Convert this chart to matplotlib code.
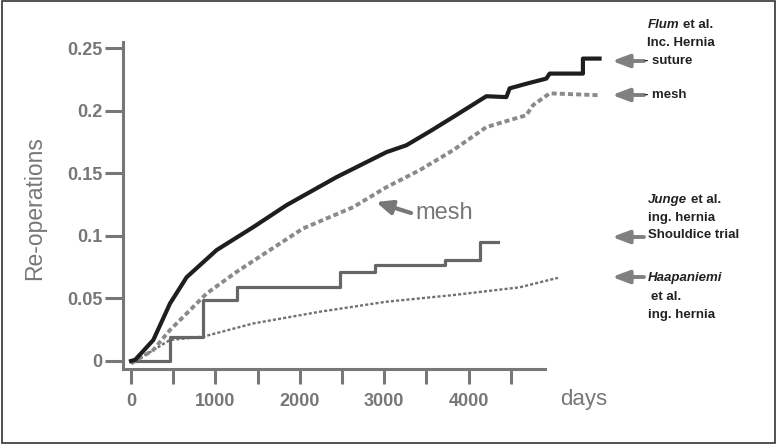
import matplotlib.pyplot as plt
from matplotlib.patches import Rectangle

# Flum et al., incisional hernia - suture (cumulative re-operations)
suture_days = [0, 50, 264, 462, 659, 1014, 1447, 1842, 2434, 3026, 3262, 3550,
               3814, 4209, 4446, 4485, 4700, 4919, 4959, 5353, 5353, 5550]
suture_rate = [0, 0.001, 0.0168, 0.046, 0.067, 0.0887, 0.107, 0.1246, 0.147, 0.167,
               0.1725, 0.184, 0.195, 0.2117, 0.211, 0.218, 0.222, 0.2258, 0.2298,
               0.2298, 0.2418, 0.2418]

# Flum et al., incisional hernia - mesh
mesh_days = [0, 264, 462, 659, 896, 1251, 1645, 2039, 2631, 3026, 3420, 3814,
             4209, 4406, 4682, 4761, 4959, 5550]
mesh_rate = [-0.002, 0.0088, 0.0248, 0.038, 0.054, 0.0713, 0.0887, 0.106, 0.123,
             0.139, 0.1526, 0.1685, 0.187, 0.191, 0.1965, 0.2045, 0.214, 0.2125]

# Junge et al., inguinal hernia, Shouldice trial (step function)
junge_days = [0, 462, 856, 1251, 2473, 2888, 3716, 4130, 4347]
junge_rate = [0, 0.0195, 0.049, 0.059, 0.0713, 0.0767, 0.0807, 0.0948, 0.0948]

# Haapaniemi et al., inguinal hernia
haap_days = [0, 462, 856, 1447, 2237, 3026, 3814, 4603, 5057]
haap_rate = [-0.002, 0.0168, 0.0195, 0.030, 0.0394, 0.0474, 0.0527, 0.0589, 0.0665]

y_ticks = [0, 0.05, 0.1, 0.15, 0.2, 0.25]
y_labels = ["0", "0.05", "0.1", "0.15", "0.2", "0.25"]
x_ticks = [0, 500, 1000, 1500, 2000, 2500, 3000, 3500, 4000, 4500]
x_labels = ["0", "", "1000", "", "2000", "", "3000", "", "4000", ""]

plt.rcParams["font.family"] = ["Liberation Sans", "DejaVu Sans"]
W, H = 777, 444
fig = plt.figure(figsize=(W / 100, H / 100), dpi=100)


def fpos(x, y):
    return (x / W, 1 - y / H)


ax = fig.add_axes([123 / W, 1 - 369 / H, (608 - 123) / W, (369 - 41.7) / H])
ax.set_xlim(-95, 5650)
ax.set_ylim(-0.0064, 0.2553)

ax.plot(haap_days, haap_rate, color="#707070", lw=1.7, ls=(0, (1.3, 0.9)),
        clip_on=False)
ax.step(junge_days, junge_rate, where="post", color="#666666", lw=2.3, clip_on=False)
ax.plot(mesh_days, mesh_rate, color="#8a8a8a", lw=2.8, ls=(0, (1.3, 0.8)),
        clip_on=False)
ax.plot(suture_days, suture_rate, color="#1e1e1e", lw=3.0, clip_on=False)

gray = "#777777"
for s in ["top", "right"]:
    ax.spines[s].set_visible(False)
for s in ["left", "bottom"]:
    ax.spines[s].set_color(gray)
    ax.spines[s].set_linewidth(2.2)
ax.spines["bottom"].set_bounds(-95, 4900)

ax.set_yticks(y_ticks)
ax.set_yticklabels(y_labels)
ax.set_xticks(x_ticks)
ax.set_xticklabels(x_labels)
ax.tick_params(axis="y", length=13, width=2.2, color=gray, pad=2,
               labelsize=13, labelcolor=gray)
ax.tick_params(axis="x", length=11, width=2.2, color=gray, pad=6,
               labelsize=13, labelcolor=gray)
for lab in ax.get_xticklabels() + ax.get_yticklabels():
    lab.set_fontweight("bold")

fig.text(*fpos(35, 208), "Re-operations", rotation=90, ha="center", va="center",
         fontsize=16.5, color=gray)
fig.text(*fpos(560, 399), "days", ha="left", va="center", fontsize=16, color=gray)

# "mesh" label in the plot
fig.text(*fpos(415, 213), "mesh", ha="left", va="center", fontsize=17, color=gray)
ax.annotate("", xy=fpos(376, 202), xytext=fpos(411, 213),
            xycoords="figure fraction", textcoords="figure fraction",
            arrowprops=dict(arrowstyle="-|>,head_length=0.8,head_width=0.35",
                            lw=3, color=gray, mutation_scale=12,
                            shrinkA=0, shrinkB=0))

# right-side arrows
for ya in [61, 95, 237, 277]:
    ax.annotate("", xy=fpos(612, ya), xytext=fpos(644, ya),
                xycoords="figure fraction", textcoords="figure fraction",
                arrowprops=dict(arrowstyle="-|>,head_length=0.85,head_width=0.32",
                                lw=2.8, color="#808080", mutation_scale=12,
                                shrinkA=0, shrinkB=0))

tk = dict(fontsize=9.5, fontweight="bold", color="#222222", va="center", ha="left")
fig.text(*fpos(648, 25), "Flum", style="italic", **tk)
fig.text(*fpos(683, 25), "et al.", **tk)
fig.text(*fpos(647, 43), "Inc. Hernia", **tk)
fig.text(*fpos(644, 61), "- suture", **tk)
fig.text(*fpos(644, 95), "- mesh", **tk)
fig.text(*fpos(648, 200), "Junge", style="italic", **tk)
fig.text(*fpos(691, 200), "et al.", **tk)
fig.text(*fpos(648, 218), "ing. hernia", **tk)
fig.text(*fpos(648, 235), "Shouldice trial", **tk)
fig.text(*fpos(648, 278), "Haapaniemi", style="italic", **tk)
fig.text(*fpos(651, 297), "et al.", **tk)
fig.text(*fpos(648, 315), "ing. hernia", **tk)

fig.patches.append(Rectangle((0.002, 0.003), 0.996, 0.994, transform=fig.transFigure,
                             fill=False, edgecolor="#333333", lw=1.2))

fig.savefig("out.png", dpi=100)
